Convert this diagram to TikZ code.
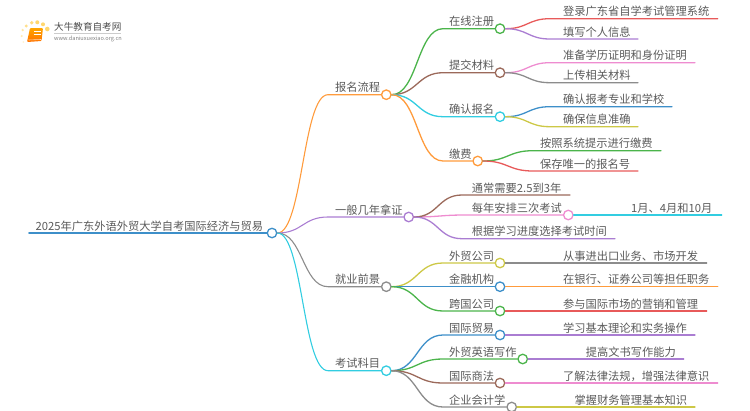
\documentclass[tikz,border=0pt]{standalone}
\usepackage{fontspec}
\setmainfont{Noto Sans CJK SC}
\usetikzlibrary{calc}
\definecolor{TextColor}{RGB}{90,90,90}
\definecolor{LogoDot}{RGB}{255,215,110}
\definecolor{RootBlue}{RGB}{61,143,201}
\definecolor{BranchOrange}{RGB}{255,155,60}
\definecolor{BranchPurple}{RGB}{170,125,210}
\definecolor{BranchGray}{RGB}{140,140,140}
\definecolor{BranchCyan}{RGB}{50,205,225}
\definecolor{BranchGreen}{RGB}{75,180,75}
\definecolor{BranchBrown}{RGB}{155,105,90}
\definecolor{BranchPink}{RGB}{238,140,208}
\definecolor{BranchRed}{RGB}{232,90,90}
\definecolor{BranchOlive}{RGB}{205,200,70}
\tikzset{
  link/.style={line width=1.3pt, line cap=round},
  hub/.style={circle, fill=white, line width=1.3pt, minimum size=9.5pt, inner sep=0pt},
  topic/.style={anchor=base west, inner sep=0pt, text=TextColor, font=\fontsize{11.25}{13}\selectfont},
  sweep/.style={to path={let \p1=(\tikztostart), \p2=(\tikztotarget), \n1={0.5*(\x2-\x1)} in
      .. controls (\x1+\n1,\y1) and (\x2-\n1,\y2) .. (\tikztotarget)}}
}

\begin{document}
\begin{tikzpicture}[x=1pt, y=-1pt]
  \useasboundingbox (0,0) rectangle (750,410);

  % Logo
  \foreach \dx/\dy/\dr/\dop in {47.3/29/2.3/1, 43/24.3/2/1, 37.3/22.3/2/1, 31.7/22.7/1.9/.9, 26.3/26/1.6/.8, 22.7/30/1.3/.6, 21.7/36/1.2/.5, 23.3/42/1/.3} {
      \fill[LogoDot, opacity=\dop] (\dx,\dy) circle (\dr);
    }
  \shade[top color=orange!70!yellow, bottom color=orange!90!red, rounded corners=1pt] (30,28) -- (43,28) -- (41.5,41) -- (27,42) -- cycle;
  \draw[orange!30, line width=0.6pt] (28.5,40) -- (41,39.5);
  \draw[white, line width=0.6pt] (34,31.5) -- (41,31.5);
  \draw[white, line width=0.6pt] (33.5,34) -- (40.5,34);
  \node[anchor=base west, inner sep=0pt, text=black!70, font=\fontsize{9.6}{11}\selectfont] (logo name) at (54,30.5) {大牛教育自考网};
  \draw[gray!40, line width=0.4pt] (54,33.5) -- (121,33.5);
  \node[anchor=base west, inner sep=0pt, text=gray, font=\fontsize{5.6}{6}\selectfont] (logo url) at (54,40.5) {www.daniuxuexiao.org.cn};

  % Root
  \node[hub, draw=RootBlue] (root) at (272,233) {};
  \node[topic] (root text) at (35.5,230) {2025年广东外语外贸大学自考国际经济与贸易};
  \coordinate (root start) at (29,233);
  \draw[link, line width=1.6pt, RootBlue] (root start) -- (root.west);

  % First level
  \foreach \id/\col/\cx/\cy/\txt in {
      flow/BranchOrange/386.3/94.7/报名流程,
      years/BranchPurple/408.7/217/一般几年拿证,
      jobs/BranchGray/386.3/286.7/就业前景,
      exams/BranchCyan/386.3/370.7/考试科目} {
      \node[hub, draw=\col] (\id) at (\cx,\cy) {};
      \node[topic] (\id text) at (335,\cy-3) {\txt};
      \coordinate (\id bend) at (328,\cy);
      \draw[link, line width=1.1pt, \col] (root.east) to[sweep] (\id bend) -- (\id.west);
    }

  % Second level with a hub
  \foreach \id/\parent/\col/\cx/\cy/\tx/\txt in {
      signup/flow/BranchGreen/500/28.7/449/在线注册,
      papers/flow/BranchBrown/500/72.7/449/提交材料,
      confirm/flow/BranchCyan/500/116.7/449/确认报名,
      pay/flow/BranchOrange/477.7/161/449/缴费,
      sittings/years/BranchPink/568.3/215/471.7/每年安排三次考试,
      trade/jobs/BranchOlive/500/263/449/外贸公司,
      finance/jobs/RootBlue/500/286.7/449/金融机构,
      global/jobs/BranchGreen/500/311/449/跨国公司,
      intl/exams/RootBlue/500/335/449/国际贸易,
      english/exams/BranchGreen/522.7/359/449/外贸英语写作,
      law/exams/BranchBrown/500/383/449/国际商法,
      account/exams/BranchGray/511.7/407/449/企业会计学} {
      \node[hub, draw=\col] (\id) at (\cx,\cy) {};
      \node[topic] (\id text) at (\tx,\cy-3) {\txt};
      \coordinate (\id bend) at (\tx-6,\cy);
      \draw[link, \col] (\parent.east) to[sweep] (\id bend) -- (\id.west);
    }

  % Leaves
  \foreach \id/\parent/\col/\tx/\ty/\bx/\tend/\txt in {
      login/signup/BranchRed/563/18.7/550/717.7/登录广东省自学考试管理系统,
      info/signup/BranchPurple/563/39/550/638/填写个人信息,
      proof/papers/BranchPink/563/62.7/550/695/准备学历证明和身份证明,
      upload/papers/BranchGray/563/82.7/550/638/上传相关材料,
      major/confirm/RootBlue/563/106.7/550/672/确认报考专业和学校,
      check/confirm/BranchOlive/563/126.7/550/638/确保信息准确,
      prompt/pay/BranchGreen/540/150.7/533/661/按照系统提示进行缴费,
      number/pay/BranchRed/540/171/533/638/保存唯一的报名号,
      span/years/BranchBrown/471.7/195/462/570/通常需要2.5到3年,
      months/sittings/BranchCyan/631/215/620/721.7/1月、4月和10月,
      pace/years/BranchPurple/471.7/238.7/462/615/根据学习进度选择考试时间,
      export/trade/BranchGray/563/263/550/706.7/从事进出口业务、市场开发,
      bank/finance/BranchOrange/563/286.7/550/717.7/在银行、证券公司等担任职务,
      market/global/BranchRed/563/311/550/706.7/参与国际市场的营销和管理,
      theory/intl/BranchPurple/563/335/550/695/学习基本理论和实务操作,
      writing/english/BranchPurple/585.7/359/570/683.7/提高文书写作能力,
      rules/law/BranchPink/563/383/550/717.7/了解法律法规，增强法律意识,
      ledger/account/BranchOlive/574.3/407/560/695/掌握财务管理基本知识} {
      \node[topic] (\id text) at (\tx,\ty-3) {\txt};
      \coordinate (\id bend) at (\bx,\ty);
      \coordinate (\id end) at (\tend,\ty);
      \draw[link, \col] (\parent.east) to[sweep] (\id bend) -- (\id end);
    }
\end{tikzpicture}
\end{document}
